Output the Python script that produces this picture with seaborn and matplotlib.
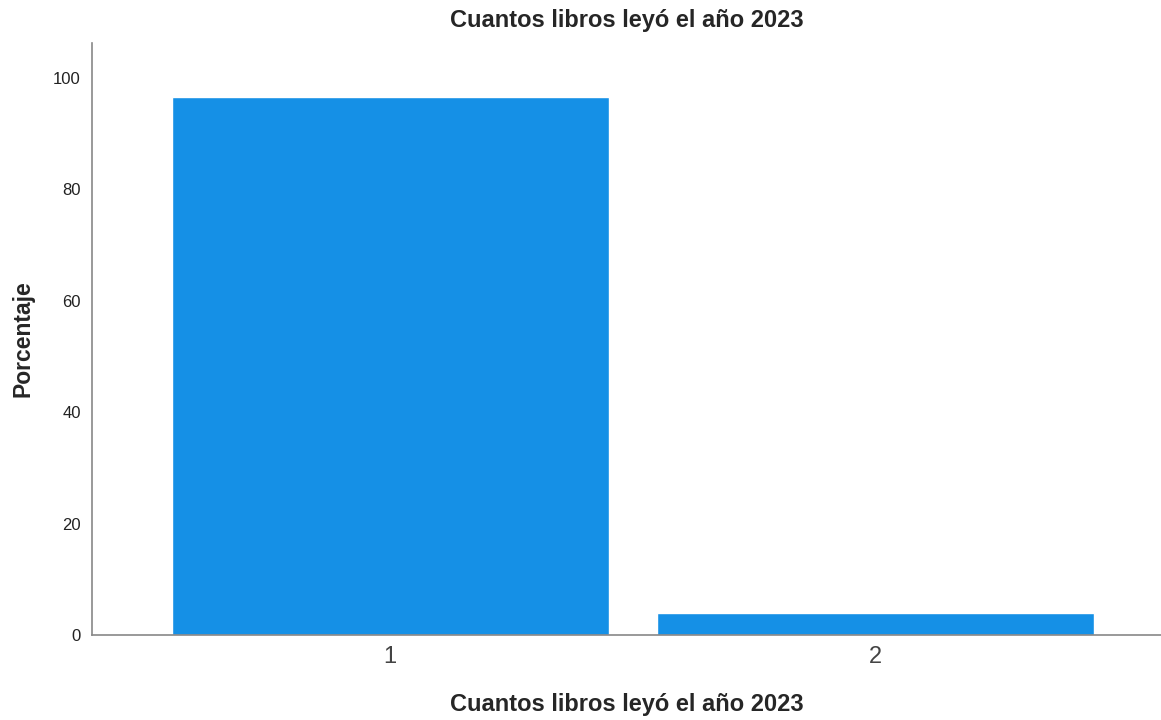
import pandas as pd
import matplotlib.pyplot as plt
import seaborn as sns

# Data
categorias = ['1', '2']
porcentajes = [96.6, 4.0]

df = pd.DataFrame({'libros': categorias, 'porcentaje': porcentajes})

sns.set_style('white')
plt.rcParams['font.family'] = ['Liberation Sans', 'DejaVu Sans']

fig = plt.figure(figsize=(11.61, 7.2), dpi=100)
ax = fig.add_axes([0.0792, 0.118, 0.9208, 0.822])

sns.barplot(data=df, x='libros', y='porcentaje', color='#1590E6',
            saturation=1, width=0.9, ax=ax)

ax.set_xlim(-0.614, 1.588)
ax.set_ylim(0, 106.2)
ax.set_yticks([0, 20, 40, 60, 80, 100])

ax.set_title('Cuantos libros leyó el año 2023', fontsize=17, fontweight='bold', pad=12)
ax.set_xlabel('Cuantos libros leyó el año 2023', fontsize=17, fontweight='bold', labelpad=18)
ax.set_ylabel('Porcentaje', fontsize=16.5, fontweight='bold')
ax.yaxis.set_label_coords(-0.054, 0.5)

ax.tick_params(axis='x', labelsize=17, labelcolor='#444444', length=0, pad=8)
ax.tick_params(axis='y', labelsize=12, labelcolor='#222222', length=0, pad=8)

for side in ['top', 'right']:
    ax.spines[side].set_visible(False)
for side in ['left', 'bottom']:
    ax.spines[side].set_color('#888888')
    ax.spines[side].set_linewidth(1.2)

plt.savefig('out.png', dpi=100)
